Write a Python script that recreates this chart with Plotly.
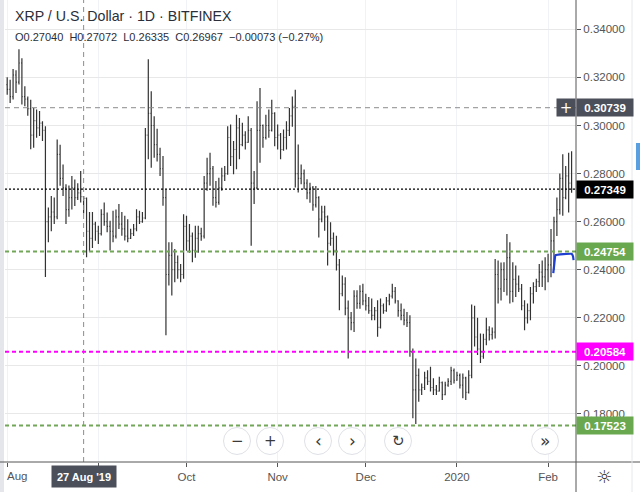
import plotly.graph_objects as go
import pandas as pd

# ---------------- data ----------------
dates = pd.date_range("2019-08-01", "2020-02-09", freq="D")

opens = [
    # Aug 2019
    .3170, .3150, .3120, .3210, .3180, .3260, .3120, .3110, .3070, .2960, .3020, .2990, .3010, .2980, .2600, .2620,
    .2640, .2620, .2880, .2780, .2740, .2650, .2700, .2740, .2700, .2720, .2704, .2697, .2560, .2530, .2590,
    # Sep
    .2560, .2550, .2630, .2600, .2580, .2560, .2540, .2620, .2590, .2570, .2540, .2530, .2550, .2570, .2620,
    .2600, .2615, .2960, .3050, .3000, .2920, .2880, .2820, .2700, .2380, .2460, .2400, .2430, .2400, .2380,
    # Oct
    .2580, .2520, .2540, .2480, .2530, .2550, .2540, .2760, .2800, .2820, .2700, .2680, .2740, .2790, .2800, .2950,
    .2870, .2900, .2990, .2920, .2960, .2930, .2980, .2760, .2740, .2980, .3000, .2950, .3000, .2980, .3050,
    # Nov
    .2950, .2960, .2900, .2950, .2980, .3040, .3080, .2800, .2780, .2800, .2760, .2720, .2740, .2670, .2700,
    .2610, .2640, .2620, .2510, .2530, .2480, .2420, .2300, .2340, .2240, .2200, .2180, .2290, .2260, .2310,
    # Dec
    .2270, .2250, .2230, .2210, .2230, .2160, .2250, .2230, .2270, .2290, .2310, .2270, .2230, .2210, .2190, .2180,
    .2060, .1900, .1960, .1900, .1910, .1950, .1935, .1910, .1900, .1895, .1930, .1880, .1920, .1935, .1980,
    # Jan 2020
    .1940, .1960, .1920, .1950, .1890, .1960, .2200, .2120, .2070, .2040, .2110, .2150, .2130, .2140, .2380, .2320,
    .2400, .2360, .2450, .2310, .2360, .2340, .2320, .2250, .2200, .2230, .2300, .2330, .2350, .2390, .2370,
    # Feb
    .2400, .2420, .2520, .2600, .2650, .2780, .2700, .2790, .2760,
]
highs = [
    .3201, .3190, .3235, .3230, .3317, .3280, .3163, .3121, .3107, .3073, .3066, .3060, .3018, .2997, .2659, .2707,
    .2700, .2942, .2920, .2838, .2756, .2750, .2790, .2775, .2760, .2811, .2707, .2700, .2640, .2640, .2600,
    .2583, .2652, .2680, .2638, .2604, .2645, .2650, .2673, .2640, .2624, .2610, .2570, .2590, .2652, .2645,
    .2640, .2990, .3276, .3142, .3038, .2986, .2907, .2873, .2734, .2514, .2514, .2486, .2459, .2424, .2631,
    .2624, .2590, .2555, .2583, .2583, .2575, .2790, .2866, .2887, .2831, .2769, .2783, .2824, .2831, .2997, .3004,
    .2935, .3045, .3031, .3011, .2976, .3038, .2990, .2811, .3101, .3156, .3004, .3045, .3066, .3107, .3055,
    .3004, .2969, .2983, .3018, .3073, .3121, .3149, .2921, .2838, .2817, .2776, .2762, .2748, .2748, .2706,
    .2666, .2666, .2625, .2597, .2555, .2541, .2445, .2376, .2369, .2272, .2224, .2314, .2314, .2335, .2342,
    .2300, .2286, .2280, .2245, .2273, .2280, .2259, .2286, .2300, .2342, .2328, .2273, .2259, .2238, .2224, .2210,
    .2072, .2031, .1989, .1927, .1975, .1982, .1996, .1948, .1920, .1955, .1935, .1934, .1948, .1996, .1989,
    .1975, .1968, .1968, .1955, .1982, .2255, .2250, .2200, .2135, .2134, .2200, .2165, .2160, .2445, .2438, .2430,
    .2431, .2548, .2514, .2431, .2417, .2376, .2341, .2273, .2259, .2328, .2348, .2362, .2424, .2438, .2452,
    .2466, .2569, .2620, .2700, .2800, .2880, .2831, .2887, .2893,
]
lows = [
    .3128, .3094, .3108, .3135, .3170, .3087, .3080, .3040, .2901, .2907, .2949, .2956, .2935, .2370, .2514, .2560,
    .2590, .2610, .2749, .2707, .2590, .2620, .2650, .2665, .2690, .2680, .2634, .2452, .2475, .2490, .2520,
    .2507, .2542, .2583, .2556, .2480, .2514, .2530, .2569, .2541, .2521, .2514, .2528, .2540, .2560, .2590,
    .2595, .2610, .2859, .2824, .2866, .2850, .2790, .2666, .2127, .2334, .2293, .2348, .2362, .2348, .2362,
    .2479, .2470, .2431, .2450, .2470, .2520, .2530, .2728, .2749, .2666, .2659, .2670, .2728, .2769, .2795, .2831,
    .2797, .2818, .2859, .2914, .2900, .2928, .2500, .2673, .2735, .2845, .2907, .2942, .2949, .2975, .2914,
    .2900, .2859, .2895, .2900, .2956, .2995, .2742, .2721, .2755, .2735, .2693, .2679, .2645, .2659, .2534,
    .2597, .2562, .2417, .2500, .2459, .2397, .2231, .2290, .2210, .2031, .2148, .2141, .2238, .2238, .2252,
    .2230, .2217, .2190, .2190, .2121, .2155, .2217, .2225, .2252, .2280, .2259, .2204, .2190, .2169, .2162, .2038,
    .1782, .1758, .1851, .1879, .1900, .1920, .1893, .1879, .1879, .1893, .1858, .1878, .1913, .1920, .1927,
    .1938, .1906, .1865, .1858, .1885, .1948, .2080, .2045, .2012, .2030, .2086, .2105, .2110, .2114, .2259, .2272,
    .2307, .2293, .2259, .2265, .2286, .2307, .2231, .2148, .2176, .2190, .2259, .2307, .2328, .2328, .2314,
    .2348, .2369, .2400, .2540, .2630, .2624, .2693, .2638, .2720,
]
closes = [
    .3150, .3120, .3210, .3180, .3260, .3120, .3110, .3070, .2960, .3020, .2990, .3010, .2980, .2600, .2620, .2640,
    .2620, .2880, .2780, .2740, .2650, .2700, .2740, .2700, .2720, .2704, .2697, .2560, .2530, .2590, .2560,
    .2550, .2630, .2600, .2580, .2560, .2540, .2620, .2590, .2570, .2540, .2530, .2550, .2570, .2620, .2600,
    .2615, .2960, .3050, .3000, .2920, .2880, .2820, .2700, .2380, .2460, .2400, .2430, .2400, .2380, .2580,
    .2520, .2540, .2480, .2530, .2550, .2540, .2760, .2800, .2820, .2700, .2680, .2740, .2790, .2800, .2950, .2870,
    .2900, .2990, .2920, .2960, .2930, .2980, .2760, .2740, .2980, .3000, .2950, .3000, .2980, .3050, .2950,
    .2960, .2900, .2950, .2980, .3040, .3080, .2800, .2780, .2800, .2760, .2720, .2740, .2670, .2700, .2610,
    .2640, .2620, .2510, .2530, .2480, .2420, .2300, .2340, .2240, .2200, .2180, .2290, .2260, .2310, .2270,
    .2250, .2230, .2210, .2230, .2160, .2250, .2230, .2270, .2290, .2310, .2270, .2230, .2210, .2190, .2180, .2060,
    .1900, .1960, .1900, .1910, .1950, .1935, .1910, .1900, .1895, .1930, .1880, .1920, .1935, .1980, .1940,
    .1960, .1920, .1950, .1890, .1960, .2200, .2120, .2070, .2040, .2110, .2150, .2130, .2140, .2380, .2320, .2400,
    .2360, .2450, .2310, .2360, .2340, .2320, .2250, .2200, .2230, .2300, .2330, .2350, .2390, .2370, .2400,
    .2420, .2520, .2600, .2650, .2780, .2700, .2790, .2760, .2735,
]

# axis ticks (Aug label drawn separately at the left edge; Sep hidden under the crosshair box)
x_tick_dates = ["2019-08-01", "2019-09-01", "2019-10-01", "2019-11-01", "2019-12-01", "2020-01-01", "2020-02-01"]
x_tick_text = ["", "", "Oct", "Nov", "Dec", "2020", "Feb"]
first_month_label = "Aug"
y_ticks = [0.18, 0.20, 0.22, 0.24, 0.26, 0.28, 0.30, 0.32, 0.34]

# horizontal price levels
crosshair_price = 0.30739
crosshair_date = "2019-08-27"
crosshair_date_text = "27 Aug '19"
last_price = 0.27349
green_levels = [0.24754, 0.17523]
magenta_level = 0.20584

# hand-drawn blue bracket (date, price)
arrow_x = ["2020-02-02 18:40", "2020-02-03 06:00", "2020-02-03 12:00", "2020-02-08 23:00", "2020-02-09 12:00", "2020-02-09 16:00"]
arrow_y = [0.2386, 0.2440, 0.2460, 0.2466, 0.2455, 0.2440]

title_text = "XRP / U.S. Dollar · 1D · BITFINEX"
header_text = "O0.27040  H0.27072  L0.26335  C0.26967  −0.00073 (−0.27%)"

# ---------------- figure ----------------
W, H = 640, 492
ML, MR, MT, MB = 5, 64, 0, 30
PW, PH = W - ML - MR, H - MT - MB
FONT = "Liberation Sans, Arial, sans-serif"


def px(xp):
    return (xp - ML) / PW


def py(yp):
    return (H - MB - yp) / PH


fig = go.Figure()
fig.add_trace(go.Ohlc(
    x=dates, open=opens, high=highs, low=lows, close=closes,
    increasing=dict(line=dict(color="#333333", width=1.2)),
    decreasing=dict(line=dict(color="#333333", width=1.2)),
    tickwidth=0.3, showlegend=False, hoverinfo="skip",
))
fig.add_trace(go.Scatter(
    x=arrow_x, y=arrow_y, mode="lines",
    line=dict(color="#1f3fd0", width=2.2, shape="spline", smoothing=0.3),
    showlegend=False, hoverinfo="skip",
))

shapes = []
shapes.append(dict(type="line", xref="paper", x0=0, x1=1, yref="y", y0=crosshair_price, y1=crosshair_price,
                   line=dict(color="#8c8c8c", width=1, dash="5px,4px")))
shapes.append(dict(type="line", xref="x", x0=crosshair_date, x1=crosshair_date, yref="paper", y0=0, y1=1,
                   line=dict(color="#8c8c8c", width=1, dash="5px,4px")))
shapes.append(dict(type="line", xref="paper", x0=0, x1=1, yref="y", y0=last_price, y1=last_price,
                   line=dict(color="#000000", width=1.3, dash="2px,2px")))
for g in green_levels:
    shapes.append(dict(type="line", xref="paper", x0=0, x1=1, yref="y", y0=g, y1=g,
                       line=dict(color="#72a658", width=2, dash="4px,3px")))
shapes.append(dict(type="line", xref="paper", x0=0, x1=1, yref="y", y0=magenta_level, y1=magenta_level,
                   line=dict(color="#ff00ff", width=2, dash="4px,3px")))

# frame pieces
shapes.append(dict(type="rect", xref="paper", yref="paper", x0=px(0), x1=px(4), y0=py(H), y1=py(0),
                   line=dict(width=0), fillcolor="#e4e6eb", layer="above"))
shapes.append(dict(type="line", xref="paper", yref="paper", x0=px(0), x1=px(W), y0=0, y1=0,
                   line=dict(color="#555555", width=1)))
shapes.append(dict(type="line", xref="paper", yref="paper", x0=1, x1=1, y0=py(H), y1=1,
                   line=dict(color="#555555", width=1)))
shapes.append(dict(type="line", xref="paper", yref="paper", x0=px(632), x1=px(632), y0=py(H), y1=1,
                   line=dict(color="#e6e8ec", width=1)))
shapes.append(dict(type="rect", xref="paper", yref="paper", x0=px(636), x1=px(641), y0=py(170), y1=py(143),
                   line=dict(width=0), fillcolor="#5a9fe0"))

# navigation buttons
btn_cx = [237, 270, 318, 352, 398, 545]
btn_txt = ["−", "+", "‹", "›", "↻", "»"]
btn_cy, btn_r = 441, 13.5
annotations = []
for cx, t in zip(btn_cx, btn_txt):
    shapes.append(dict(type="circle", xref="paper", yref="paper",
                       x0=px(cx - btn_r), x1=px(cx + btn_r), y0=py(btn_cy + btn_r), y1=py(btn_cy - btn_r),
                       line=dict(color="#dfe1e6", width=1), fillcolor="#ffffff", layer="above"))
    annotations.append(dict(xref="paper", yref="paper", x=px(cx), y=py(btn_cy), text=t, showarrow=False,
                            font=dict(family="DejaVu Sans", size=17 if t in "‹›»" else 15, color="#3a3a3a"),
                            xanchor="center", yanchor="middle"))


def price_label(val, bg):
    return dict(xref="paper", yref="y", x=1, y=val, xanchor="left", yanchor="middle",
                text=f"<b>{val:.5f}</b>", showarrow=False, bgcolor=bg, width=52, height=13, borderpad=2,
                align="center", font=dict(family=FONT, size=11.5, color="#ffffff"))


annotations.append(price_label(crosshair_price, "#4b4f5a"))
annotations.append(dict(xref="paper", yref="y", x=1, y=crosshair_price, xanchor="right", yanchor="middle",
                        text="+", showarrow=False, bgcolor="#4b4f5a", width=14, height=13, borderpad=2,
                        font=dict(family="DejaVu Sans", size=15, color="#ffffff")))
annotations.append(price_label(last_price, "#000000"))
for g in green_levels:
    annotations.append(price_label(g, "#6aa84f"))
annotations.append(price_label(magenta_level, "#ff00ff"))

# first month label at the left edge
annotations.append(dict(xref="paper", yref="paper", x=px(5), y=py(476), xanchor="left", yanchor="middle",
                        text=first_month_label, showarrow=False,
                        font=dict(family=FONT, size=11.5, color="#555555")))
# crosshair date label
annotations.append(dict(xref="x", yref="paper", x=crosshair_date, y=py(476), xanchor="center", yanchor="middle",
                        text=f"<b>{crosshair_date_text}</b>", showarrow=False, bgcolor="#4b4f5a", width=58, height=15,
                        borderpad=3, font=dict(family=FONT, size=11, color="#ffffff")))

# title and header
annotations.append(dict(xref="paper", yref="paper", x=px(13), y=py(16), xanchor="left", yanchor="middle",
                        text=title_text, showarrow=False, font=dict(family=FONT, size=14.2, color="#2a2e39")))
annotations.append(dict(xref="paper", yref="paper", x=px(13), y=py(37), xanchor="left", yanchor="middle",
                        text=header_text, showarrow=False, font=dict(family=FONT, size=11, color="#2a2e39")))
# settings icon
annotations.append(dict(xref="paper", yref="paper", x=px(604), y=py(476), xanchor="center", yanchor="middle",
                        text="☼", showarrow=False, font=dict(family="DejaVu Sans", size=18, color="#333333")))

fig.update_layout(
    width=W, height=H, margin=dict(l=ML, r=MR, t=MT, b=MB),
    paper_bgcolor="#ffffff", plot_bgcolor="#ffffff",
    shapes=shapes, annotations=annotations, showlegend=False,
    xaxis=dict(type="date", range=["2019-07-31 06:00", "2020-02-10 12:00"],
               tickvals=x_tick_dates, ticktext=x_tick_text,
               ticks="outside", ticklen=4, tickcolor="#555555",
               showline=False, showgrid=True, gridcolor="#f0f2f6",
               tickfont=dict(family=FONT, size=11.5, color="#555555"),
               rangeslider=dict(visible=False), fixedrange=True),
    yaxis=dict(side="right", range=[0.1600, 0.3522], tickvals=y_ticks, tickformat=".5f",
               ticks="outside", ticklen=4, tickcolor="#555555",
               showline=False, showgrid=True, gridcolor="#e8e8e8", zeroline=False,
               tickfont=dict(family=FONT, size=11.5, color="#555555"), fixedrange=True),
)

fig.write_html("out.html")
